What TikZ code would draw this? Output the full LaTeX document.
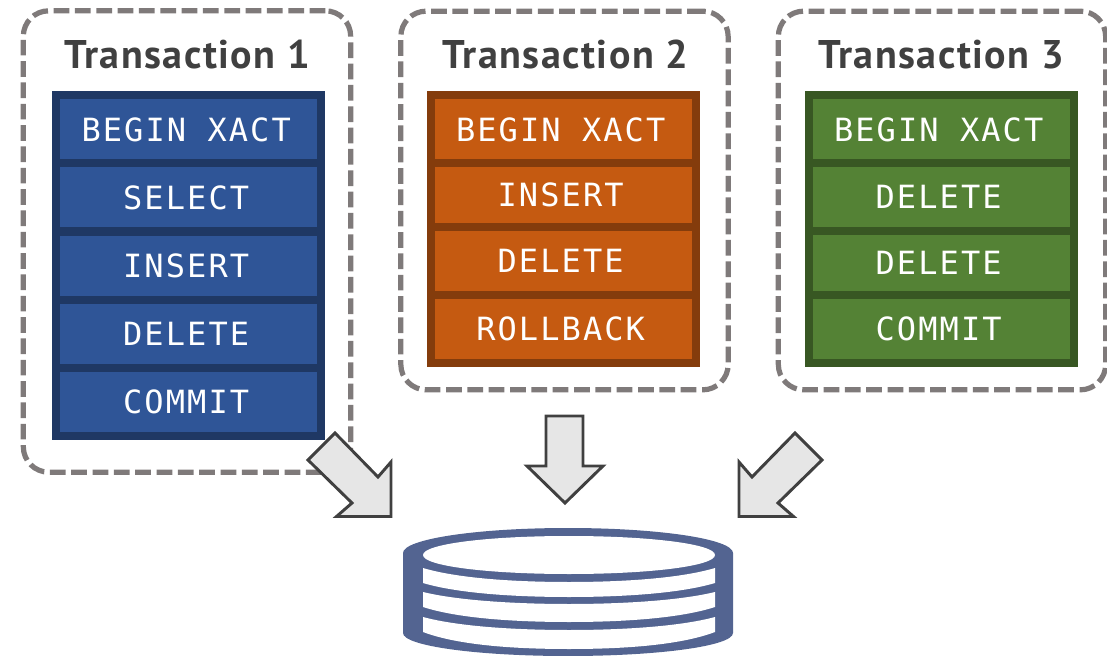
\documentclass[tikz,border=0pt]{standalone}
\usepackage{fontspec}
\newfontfamily\rowfont[LetterSpace=6.5]{DejaVu Sans Mono}
\newfontfamily\titlefont[LetterSpace=3.8]{PT Sans Bold}
\definecolor{dashgray}{RGB}{127,122,122}
\definecolor{titlegray}{RGB}{64,64,64}
\definecolor{bluefill}{RGB}{47,85,151}
\definecolor{blueline}{RGB}{31,56,100}
\definecolor{orangefill}{RGB}{197,90,17}
\definecolor{orangeline}{RGB}{132,60,12}
\definecolor{greenfill}{RGB}{84,130,53}
\definecolor{greenline}{RGB}{56,87,35}
\definecolor{diskblue}{RGB}{83,100,145}
\definecolor{arrowfill}{RGB}{230,230,230}
\tikzset{every picture/.style={line width=0.75pt}}
\tikzset{
  framebox/.style={draw=dashgray,line width=3.9pt,rounded corners=19pt,dash pattern=on 11.8pt off 4.2pt,inner sep=0pt},
  titletext/.style={text=titlegray,font=\titlefont\fontsize{30}{30}\selectfont,inner sep=0pt},
  rowbox/.style={line width=6pt,minimum width=198.75pt,text=white,inner sep=0pt,font=\rowfont\fontsize{24}{24}\selectfont,execute at end node={\hspace{3.5pt}}},
  bluerow/.style={rowbox,draw=blueline,fill=bluefill},
  orangerow/.style={rowbox,draw=orangeline,fill=orangefill},
  greenrow/.style={rowbox,draw=greenline,fill=greenfill},
  tallrow/.style={minimum height=51pt},
  shortrow/.style={minimum height=48pt},
  blockarrow/.style={draw=titlegray,fill=arrowfill,line width=2.2pt,line join=miter}
}
\begin{document}
\begin{tikzpicture}[x=0.75pt,y=0.75pt,yscale=-1,xscale=1]
\useasboundingbox (0,0) rectangle (1107,656);

% Frames
\node [framebox,minimum width=245.5pt,minimum height=346pt] (frame1) at (187,241.5) {};
\node [framebox,minimum width=245.5pt,minimum height=284pt] (frame2) at (564.5,200.5) {};
\node [framebox,minimum width=245.5pt,minimum height=284pt] (frame3) at (942,200.5) {};

% Titles
\node [titletext] (title1) at (187,55) {Transaction 1};
\node [titletext] (title2) at (565.5,55) {Transaction 2};
\node [titletext] (title3) at (941,55) {Transaction 3};

% Transaction 1
\node [bluerow,tallrow] (begin1) at (188.5,129.5) {BEGIN XACT};
\node [bluerow,tallrow] (select1) at (188.5,197.5) {SELECT};
\node [bluerow,tallrow] (insert1) at (188.5,266) {INSERT};
\node [bluerow,tallrow] (delete1) at (188.5,334) {DELETE};
\node [bluerow,tallrow] (commit1) at (188.5,402) {COMMIT};

% Transaction 2
\node [orangerow,tallrow] (begin2) at (563,129.5) {BEGIN XACT};
\node [orangerow,shortrow] (insert2) at (563,195) {\raisebox{-1.5pt}{INSERT}};
\node [orangerow,tallrow] (delete2) at (563,261) {DELETE};
\node [orangerow,tallrow] (rollback2) at (563,329) {ROLLBACK};

% Transaction 3
\node [greenrow,tallrow] (begin3) at (941,129.5) {BEGIN XACT};
\node [greenrow,tallrow] (delete3) at (941,197) {DELETE};
\node [greenrow,shortrow] (delete4) at (941,263) {DELETE};
\node [greenrow,tallrow] (commit3) at (941,329) {COMMIT};

% Block arrows
\draw [blockarrow] (335,433) -- (308,460) -- (352,503) -- (336.5,516.5) -- (391,516.5) -- (391,462) -- (378,477) -- cycle;
\draw [blockarrow] (546,416) -- (583,416) -- (583,466) -- (603,466) -- (565,503) -- (527,466) -- (546,466) -- cycle;
\draw [blockarrow] (795,433) -- (822,460) -- (778,503) -- (793.5,516.5) -- (739,516.5) -- (739,462) -- (752,477) -- cycle;

% Disk
\fill [diskblue] (403,553) .. controls (403,539) and (477,528) .. (568,528) .. controls (659,528) and (733,539) .. (733,553) -- (733,633) .. controls (733,646) and (659,656) .. (568,656) .. controls (477,656) and (403,646) .. (403,633) -- cycle;
\fill [white] (423,555) .. controls (423,544) and (488,536) .. (569,536) .. controls (650,536) and (715,544) .. (715,555) .. controls (715,566) and (650,574) .. (569,574) .. controls (488,574) and (423,566) .. (423,555) -- cycle;
\foreach \ya/\yb/\yc/\yd in {568/582/583/597,592/604/607/622,617/630/632/649}
  \fill [white] (423,\ya) .. controls (460,\yb-3) and (520,\yb) .. (569,\yb) .. controls (618,\yb) and (678,\yb-3) .. (715,\ya) -- (715,\yc) .. controls (678,\yd-3) and (618,\yd) .. (569,\yd) .. controls (520,\yd) and (460,\yd-3) .. (423,\yc) -- cycle;

\end{tikzpicture}
\end{document}
